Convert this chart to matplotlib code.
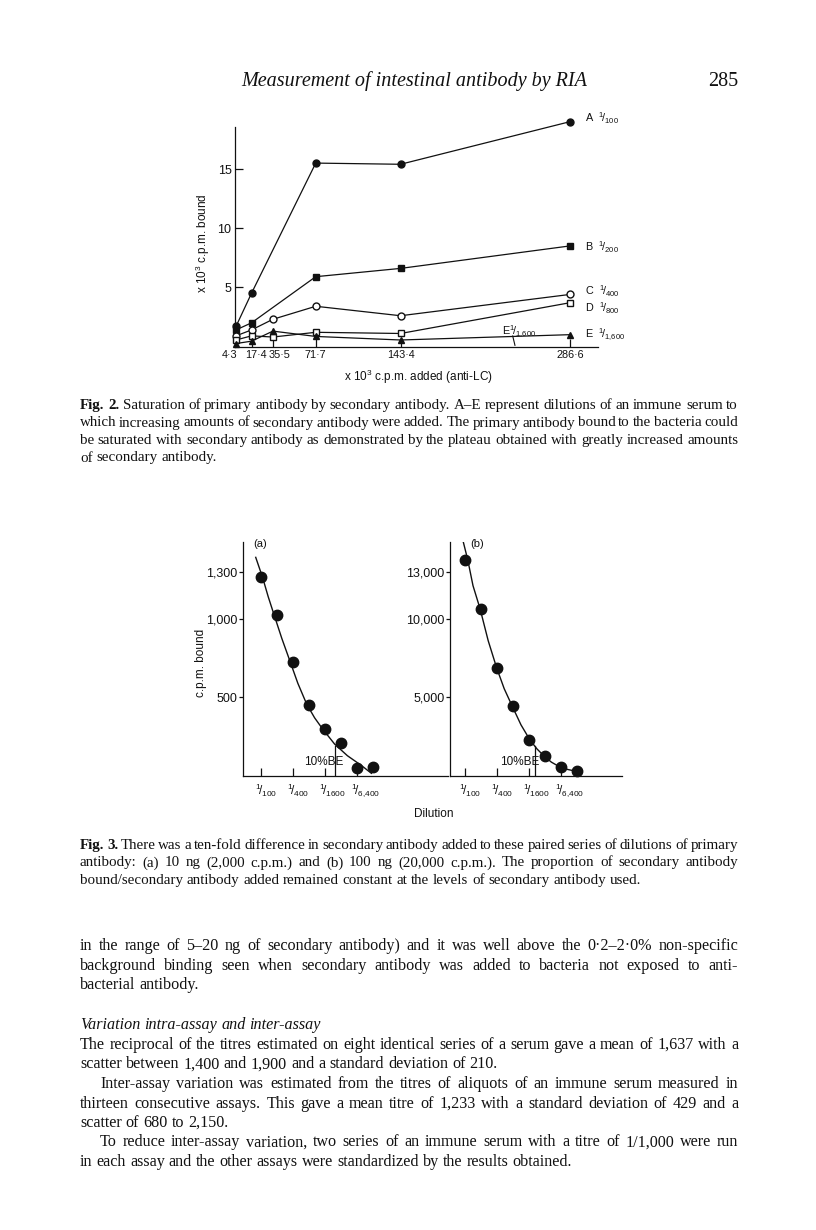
"""Page 285: Fig. 2 (saturation curves) and Fig. 3 (dilution series), with captions and body text."""

import matplotlib
matplotlib.use('Agg')
import matplotlib.pyplot as plt
import matplotlib.transforms as mtransforms


W, H = 816, 1230
DPI = 100

SERIF = 'Liberation Serif'
SANS = 'Liberation Sans'
INK = '#111111'

# Fig. 2 -- x 10^3 c.p.m. bound against x 10^3 c.p.m. added (anti-LC)
CPM_ADDED = [4.3, 17.4, 35.5, 71.7, 143.4, 286.6]
CPM_ADDED_LABELS = ['4·3', '17·4', '35·5', '71·7', '143·4', '286·6']
A_X = [4.3, 17.4, 71.7, 143.4, 286.6]
A_Y = [1.7, 4.5, 15.5, 15.4, 19.0]
B_X = [4.3, 17.4, 71.7, 143.4, 286.6]
B_Y = [1.4, 2.0, 5.9, 6.6, 8.5]
C_Y = [0.9, 1.4, 2.3, 3.4, 2.6, 4.4]
D_Y = [0.55, 0.9, 0.8, 1.2, 1.1, 3.7]
E_Y = [0.25, 0.45, 1.3, 0.85, 0.55, 1.0]
SERIES_NAMES = ['A', 'B', 'C', 'D', 'E']
SERIES_DILUTIONS = ['100', '200', '400', '800', '1{,}600']
BOUND_TICKS = [5, 10, 15]

# Fig. 3 -- c.p.m. bound against doubling dilutions (step 0 = 1/100)
DILUTION_STEP = [0, 1, 2, 3, 4, 5, 6, 7]
DILUTION_TICKS = [0, 2, 4, 6]
DILUTION_LABELS = ['100', '400', '1600', '6{,}400']
BOUND_A = [1265, 1025, 727, 451, 299, 210, 51, 55]
BOUND_B = [13730, 10640, 6870, 4430, 2290, 1270, 590, 340]
CURVE_A_X = [-0.33, 0.1, 0.45, 0.8, 1.3, 1.8, 2.3, 2.85, 3.35, 3.85, 4.6, 5.4, 6.3, 6.9]
CURVE_A_Y = [1390, 1262, 1140, 1030, 875, 733, 590, 458, 370, 299, 203, 129, 65, 17]
CURVE_B_X = [-0.1, 0.17, 0.5, 0.94, 1.45, 1.98, 2.45, 2.96, 3.5, 4.06, 4.5, 4.94, 5.4, 5.9, 6.4, 6.98]
CURVE_B_Y = [14850, 13750, 12100, 10640, 8600, 6870, 5550, 4420, 3250, 2290, 1720, 1270, 880, 590, 420, 290]
TICKS_A = [500, 1000, 1300]
TICKS_A_LABELS = ['500', '1,000', '1,300']
TICKS_B = [5000, 10000, 13000]
TICKS_B_LABELS = ['5,000', '10,000', '13,000']
BE_STEP_A = 4.63
BE_STEP_B = 4.375

HEADER = 'Measurement of intestinal antibody by RIA'
PAGE_NO = '285'
CAPTION_2 = [
    'Fig. 2. Saturation of primary antibody by secondary antibody. A–E represent dilutions of an immune serum to',
    'which increasing amounts of secondary antibody were added. The primary antibody bound to the bacteria could',
    'be saturated with secondary antibody as demonstrated by the plateau obtained with greatly increased amounts',
    'of secondary antibody.',
]
CAPTION_3 = [
    'Fig. 3. There was a ten-fold difference in secondary antibody added to these paired series of dilutions of primary',
    'antibody: (a) 10 ng (2,000 c.p.m.) and (b) 100 ng (20,000 c.p.m.). The proportion of secondary antibody',
    'bound/secondary antibody added remained constant at the levels of secondary antibody used.',
]
BODY_1 = [
    'in the range of 5–20 ng of secondary antibody) and it was well above the 0·2–2·0% non-specific',
    'background binding seen when secondary antibody was added to bacteria not exposed to anti-',
    'bacterial antibody.',
]
HEADING = 'Variation intra-assay and inter-assay'
BODY_2 = [
    'The reciprocal of the titres estimated on eight identical series of a serum gave a mean of 1,637 with a',
    'scatter between 1,400 and 1,900 and a standard deviation of 210.',
]
BODY_3 = [
    'Inter-assay variation was estimated from the titres of aliquots of an immune serum measured in',
    'thirteen consecutive assays. This gave a mean titre of 1,233 with a standard deviation of 429 and a',
    'scatter of 680 to 2,150.',
]
BODY_4 = [
    'To reduce inter-assay variation, two series of an immune serum with a titre of 1/1,000 were run',
    'in each assay and the other assays were standardized by the results obtained.',
]

# page pixels, origin top-left
PX = mtransforms.Affine2D().scale(1, -1).translate(0, H)
TEXT_L, TEXT_R = 80, 738


plt.rcParams.update({
    'font.family': SANS,
    'mathtext.fontset': 'custom',
    'mathtext.rm': SANS,
    'mathtext.it': SANS + ':italic',
    'mathtext.bf': SANS + ':bold',
    'axes.edgecolor': INK,
    'axes.linewidth': 0.9,
    'xtick.color': INK,
    'ytick.color': INK,
    'xtick.major.width': 0.9,
    'ytick.major.width': 0.9,
})


def px_axes(fig, left, top, right, bottom):
    return fig.add_axes([left / W, 1 - bottom / H, (right - left) / W, (bottom - top) / H])


def frac(den):
    return r'$^{1}\!/_{' + den + '}$'


def bare_axes(ax):
    for side in ('top', 'right'):
        ax.spines[side].set_visible(False)
    ax.patch.set_alpha(0)


def nudge(fig, label, dx_px):
    shift = mtransforms.ScaledTranslation(dx_px / DPI, 0, fig.dpi_scale_trans)
    label.set_transform(label.get_transform() + shift)


def text_line(fig, renderer, line, y, size, justify=True, bold=0, style='normal', x0=TEXT_L):
    """Place one line of serif text word by word, spread to the text block."""
    words = line.split()
    avail = TEXT_R - x0
    while True:
        arts = [fig.text(x0, y, w, transform=PX, family=SERIF, fontsize=size, style=style,
                         fontweight='bold' if i < bold else 'normal',
                         ha='left', va='baseline', color=INK)
                for i, w in enumerate(words)]
        widths = [a.get_window_extent(renderer).width for a in arts]
        em = size * DPI / 72
        if justify and len(words) > 1:
            gap = (avail - sum(widths)) / (len(words) - 1)
        else:
            gap = 0.25 * em
        if not justify or gap >= 0.17 * em:
            break
        for a in arts:
            a.remove()
        size *= 0.985
    x = x0
    for a, w in zip(arts, widths):
        a.set_x(x)
        x += w + gap


def paragraph(fig, renderer, lines, y0, step, size, bold=0, indent=0):
    for i, line in enumerate(lines):
        last = i == len(lines) - 1
        text_line(fig, renderer, line, y0 + i * step, size, justify=not last,
                  bold=bold if i == 0 else 0, x0=TEXT_L + (indent if i == 0 else 0))


def draw_fig2(fig):
    ax = px_axes(fig, 235, 127, 598, 346.5)
    bare_axes(ax)
    ax.set_xlim(3.45, 310.3)
    ax.set_ylim(0, 18.55)

    kw = dict(color=INK, linewidth=0.9, markersize=5, clip_on=False, zorder=3)
    ax.plot(A_X, A_Y, marker='o', markerfacecolor=INK, **kw)
    ax.plot(B_X, B_Y, marker='s', markerfacecolor=INK, **kw)
    ax.plot(CPM_ADDED, C_Y, marker='o', markerfacecolor='white', **kw)
    ax.plot(CPM_ADDED, D_Y, marker='s', markerfacecolor='white', **kw)
    ax.plot(CPM_ADDED, E_Y, marker='^', markerfacecolor=INK, **kw)

    label_y = [19.3, 8.4, 4.7, 3.25, 0.97]
    for name, den, yy in zip(SERIES_NAMES, SERIES_DILUTIONS, label_y):
        ax.text(299, yy, name + '  ' + frac(den), fontsize=7.8, color=INK,
                ha='left', va='center', clip_on=False)

    ax.text(229, 0.97, 'E' + frac('1{,}600'), fontsize=7.8, color=INK,
            ha='left', va='baseline')
    ax.plot([238.2, 240.1], [0.89, 0.1], color=INK, linewidth=0.8)

    ax.set_xticks(CPM_ADDED)
    ax.set_xticklabels(CPM_ADDED_LABELS)
    ax.set_yticks(BOUND_TICKS)
    ax.set_yticklabels([str(v) for v in BOUND_TICKS])
    ax.tick_params(direction='in', length=5.5, labelsize=9, pad=2.5)
    ax.tick_params(axis='x', labelsize=7.8)
    # the crowded low-dose labels sit slightly apart, as in the print
    for lab, dx in zip(ax.get_xticklabels(), [-6, 4.5, 7, 0, 0, 0]):
        nudge(fig, lab, dx)

    fig.text(203, 243, 'x 10$^{3}$ c.p.m. bound', transform=PX, rotation=90,
             fontsize=8.5, ha='center', va='center', color=INK)
    fig.text(418, 377, 'x 10$^{3}$ c.p.m. added (anti-LC)', transform=PX,
             fontsize=8.5, ha='center', va='center', color=INK)


def dilution_panel(fig, left, right, y_top, values, curve_x, curve_y, ticks, tick_labels,
                   be_step, be_top, first_px):
    ax = px_axes(fig, left, 541.7, right, 776)
    bare_axes(ax)
    step_px = 16.0
    ax.set_xlim((left - first_px) / step_px, (right - first_px) / step_px)
    ax.set_ylim(0, y_top)

    ax.plot(curve_x, curve_y, color=INK, linewidth=1.0, zorder=2)
    ax.plot(DILUTION_STEP, values, linestyle='none', marker='o', markersize=7.5,
            color=INK, clip_on=False, zorder=3)
    ax.plot([be_step, be_step], [0, be_top], color=INK, linewidth=0.9)

    ax.set_yticks(ticks)
    ax.set_yticklabels(tick_labels)
    ax.tick_params(axis='y', direction='out', length=3, labelsize=9, pad=1)
    ax.set_xticks(DILUTION_TICKS)
    ax.set_xticklabels([frac(d) for d in DILUTION_LABELS])
    ax.tick_params(axis='x', direction='in', length=5.5, labelsize=8.5, pad=4)
    for lab in ax.get_xticklabels():
        lab.set_horizontalalignment('left')
        nudge(fig, lab, -6)
    return ax


def draw_fig3(fig):
    dilution_panel(fig, 243, 448, 1489.5, BOUND_A, CURVE_A_X, CURVE_A_Y,
                   TICKS_A, TICKS_A_LABELS, BE_STEP_A, 193, 261)
    dilution_panel(fig, 450, 622, 14895, BOUND_B, CURVE_B_X, CURVE_B_Y,
                   TICKS_B, TICKS_B_LABELS, BE_STEP_B, 1930, 465)

    for tag, x in (('(a)', 260), ('(b)', 477)):
        fig.text(x, 544, tag, transform=PX, fontsize=8, color=INK, ha='center', va='center')
    for x in (324, 520):
        fig.text(x, 762, '10%BE', transform=PX, fontsize=8.5, color=INK,
                 ha='center', va='center')

    fig.text(201, 663, 'c.p.m. bound', transform=PX, rotation=90,
             fontsize=8.5, ha='center', va='center', color=INK)
    fig.text(434, 814, 'Dilution', transform=PX,
             fontsize=8.5, ha='center', va='center', color=INK)


def draw_text(fig):
    renderer = fig.canvas.get_renderer()
    fig.text(414, 86, HEADER, transform=PX, family=SERIF, style='italic', fontsize=14.5,
             ha='center', va='baseline', color=INK)
    fig.text(TEXT_R, 86, PAGE_NO, transform=PX, family=SERIF, fontsize=14.5,
             ha='right', va='baseline', color=INK)

    paragraph(fig, renderer, CAPTION_2, 409, 17.5, 10.8, bold=2)
    paragraph(fig, renderer, CAPTION_3, 849, 17.4, 10.8, bold=2)

    paragraph(fig, renderer, BODY_1, 950, 19.5, 11.6)
    text_line(fig, renderer, HEADING, 1029, 11.6, justify=False, style='italic')
    paragraph(fig, renderer, BODY_2, 1049, 19.5, 11.6)
    paragraph(fig, renderer, BODY_3, 1088, 19.5, 11.6, indent=20)
    paragraph(fig, renderer, BODY_4, 1146.5, 19.5, 11.6, indent=20)


def main():
    fig = plt.figure(figsize=(W / DPI, H / DPI), dpi=DPI)
    fig.patch.set_facecolor('white')
    draw_fig2(fig)
    draw_fig3(fig)
    draw_text(fig)
    fig.savefig('out.png', dpi=DPI)
    plt.close(fig)


if __name__ == '__main__':
    main()
